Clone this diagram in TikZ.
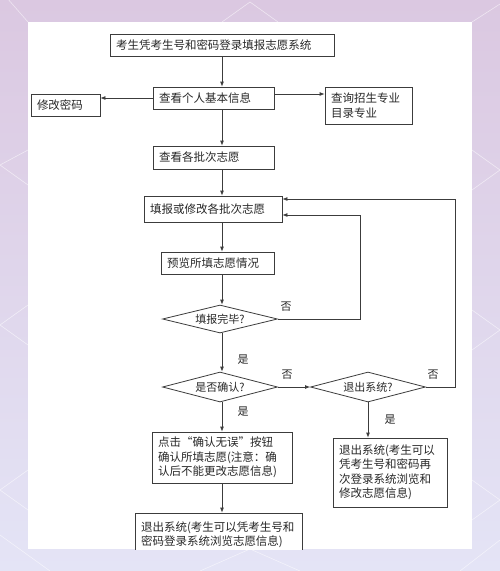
\documentclass[tikz,border=0pt]{standalone}
\usepackage{fontspec}
\setmainfont{Noto Sans CJK SC}
\usepackage{tikz}
\usetikzlibrary{shapes.geometric, arrows.meta, positioning, calc}
\definecolor{bgtop}{RGB}{219,200,225}
\definecolor{bgmid}{RGB}{226,216,238}
\definecolor{bgbot}{RGB}{228,228,246}
\definecolor{flowline}{RGB}{60,60,60}
\definecolor{flowtext}{RGB}{40,40,40}
\tikzset{
  stepbox/.style={
    rectangle, draw=flowline, line width=0.8pt, fill=white,
    inner xsep=6pt, inner ysep=0pt, align=left,
    font=\fontsize{11.5}{14.5}\selectfont, text=flowtext
  },
  decision/.style={
    diamond, aspect=4, draw=flowline, line width=0.8pt, fill=white,
    inner sep=1pt, minimum width=115pt, font=\fontsize{11}{13}\selectfont,
    text=flowtext
  },
  arrow/.style={-{Latex[length=5pt,width=4pt]}, line width=0.8pt, color=flowline},
  answer/.style={font=\fontsize{11}{13}\selectfont, text=flowtext, inner sep=0pt},
  deco/.style={white, opacity=0.55, line width=0.6pt}
}
\begin{document}
\begin{tikzpicture}[x=1pt, y=-1pt]
  \useasboundingbox (0,0) rectangle (500,571);
  % ── Background ───────────────────────────────────────────────────
  \shade[top color=bgtop, middle color=bgmid, bottom color=bgbot]
    (0,0) rectangle (500,571);
  \draw[deco] (0,-10) -- (28,22);
  \draw[deco] (222,22) -- (250,2) -- (278,22);
  \draw[deco] (472,22) -- (500,4);
  \draw[deco] (28,150) -- (0,165) -- (28,185);
  \draw[deco] (28,305) -- (0,325) -- (28,345);
  \draw[deco] (28,470) -- (0,490) -- (28,510);
  \draw[deco] (472,150) -- (500,170) -- (472,190);
  \draw[deco] (472,310) -- (500,330) -- (472,350);
  \draw[deco] (472,480) -- (500,500) -- (472,520);
  \draw[deco] (0,535) -- (50,571);
  \draw[deco] (200,571) -- (250,549) -- (300,571);
  \draw[deco] (460,571) -- (500,540);
  \fill[white] (28,22) rectangle (472,549);

  \begin{scope}
  \clip (28,22) rectangle (472,549);
  % ── Login and personal info ──────────────────────────────────────
  \node[stepbox, text width=212pt, minimum height=22pt] (login)
    at (222,45) {考生凭考生号和密码登录填报志愿系统};
  \node[stepbox, text width=109pt, minimum height=22pt] (info)
    at (213.5,98) {查看个人基本信息};
  \node[stepbox, text width=57pt, minimum height=22pt] (pwd)
    at (65.5,105) {修改密码};
  \node[stepbox, text width=75pt, minimum height=37pt] (catalog)
    at (368.5,105.5) {查询招生专业\\目录专业};

  % ── Filling in ───────────────────────────────────────────────────
  \node[stepbox, text width=109pt, minimum height=23pt] (batch)
    at (213.5,157.5) {查看各批次志愿};
  \node[stepbox, text width=126pt, minimum height=26pt] (fill)
    at (213,209) {填报或修改各批次志愿};
  \node[stepbox, text width=101pt, minimum height=22pt] (preview)
    at (217.5,263) {预览所填志愿情况};

  % ── Decisions ────────────────────────────────────────────────────
  \node[decision, minimum height=28pt] (done)    at (220,319) {填报完毕?};
  \node[decision, minimum height=30pt] (confirm) at (220,387) {是否确认?};
  \node[decision, minimum height=30pt] (quit)    at (368,387) {退出系统?};

  % ── Exits ────────────────────────────────────────────────────────
  \node[stepbox, text width=128pt, minimum height=51pt] (click)
    at (222,457.5) {点击“确认无误”按钮\\确认所填志愿(注意：确\\认后不能更改志愿信息)};
  \node[stepbox, text width=102pt, minimum height=69pt] (quitagain)
    at (390,472.5) {退出系统(考生可以\\凭考生号和密码再\\次登录系统浏览和\\修改志愿信息)};
  \node[stepbox, text width=155pt, minimum height=44pt] (quitfinal)
    at (218.5,535) {退出系统(考生可以凭考生号和\\密码登录系统浏览志愿信息)};

  \coordinate (loopin)  at (360,319);
  \coordinate (loopout) at (455,387);

  % ── Connections ──────────────────────────────────────────────────
  \draw[arrow] (login.south) -- (login.south |- info.north);
  \draw[arrow] (info.west) -- (info.west -| pwd.east);
  \draw[arrow] ([yshift=4pt]info.east) -- ([yshift=4pt]info.east -| catalog.west);
  \draw[arrow] (info.south -| login) -- (batch.north -| login);
  \draw[arrow] (batch.south -| login) -- (fill.north -| login);
  \draw[arrow] (fill.south -| login) -- (preview.north -| login);
  \draw[arrow] (preview.south -| login) -- (done.north -| login);
  \draw[arrow] (done.south -| login) -- (confirm.north -| login);
  \draw[arrow] (confirm.south -| login) -- (click.north -| login);
  \draw[arrow] (click.south -| login) -- (quitfinal.north -| login);

  \draw[arrow] (done.east) -- (loopin) |- ([yshift=-6pt]fill.east);
  \draw[arrow] (confirm.east) -- (quit.west);
  \draw[arrow] (quit.east) -- (loopout) |- ([yshift=10pt]fill.east);
  \draw[arrow] (quit.south) -- (quit.south |- quitagain.north);

  % ── Answers ──────────────────────────────────────────────────────
  \node[answer] (no1)  at (286,307) {否};
  \node[answer] (yes1) at (243,360) {是};
  \node[answer] (no2)  at (287,375) {否};
  \node[answer] (yes2) at (243,412) {是};
  \node[answer] (no3)  at (433,375) {否};
  \node[answer] (yes3) at (390,420) {是};
  \end{scope}
\end{tikzpicture}
\end{document}
